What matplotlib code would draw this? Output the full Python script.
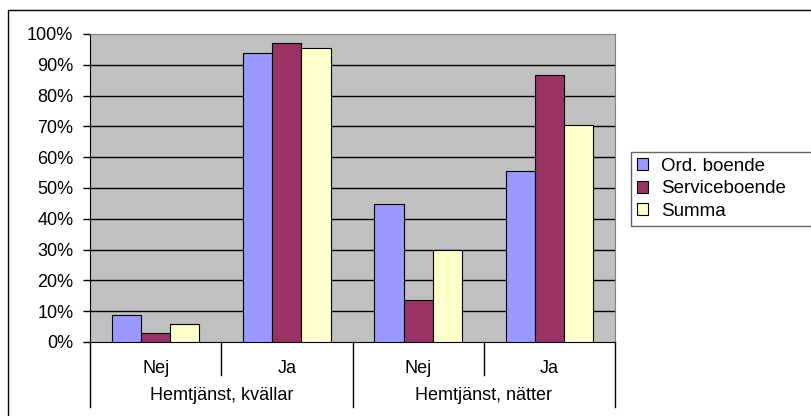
import matplotlib
matplotlib.use("Agg")
import matplotlib.pyplot as plt
import numpy as np
from matplotlib.lines import Line2D
from matplotlib.patches import Patch

plt.rcParams["font.family"] = ["Liberation Sans", "DejaVu Sans"]

# data (percent)
categories = ["Nej", "Ja", "Nej", "Ja"]
groups = ["Hemtjänst, kvällar", "Hemtjänst, nätter"]
series_names = ["Ord. boende", "Serviceboende", "Summa"]
ord_boende = [8.7, 93.9, 44.7, 55.4]
serviceboende = [2.9, 97.2, 13.5, 86.7]
summa = [5.9, 95.4, 29.8, 70.3]
yticks = list(range(0, 101, 10))

colors = ["#9999FF", "#993366", "#FFFFCC"]

W, H = 811, 416
fig = plt.figure(figsize=(W / 100, H / 100), dpi=100)
ax = fig.add_axes([90 / W, (H - 342) / H, (615 - 90) / W, (342 - 34) / H])
ax.set_facecolor("#C0C0C0")

x = np.arange(len(categories)) + 0.5
bw = 1 / 4.5
for i, (vals, c) in enumerate(zip([ord_boende, serviceboende, summa], colors)):
    ax.bar(x + (i - 1) * bw, vals, width=bw, color=c, edgecolor="black",
           linewidth=0.8, zorder=3, label=series_names[i])

ax.set_xlim(0, len(categories))
ax.set_ylim(0, 100)
ax.set_yticks(yticks)
ax.set_yticklabels(["{}%".format(t) for t in yticks])
ax.tick_params(axis="y", direction="out", length=5, width=1, pad=7, labelsize=13)
for t in yticks[1:-1]:
    ax.axhline(t, color="black", linewidth=1, zorder=1)

ax.set_xticks(x)
ax.set_xticklabels(categories)
ax.tick_params(axis="x", length=0, pad=13, labelsize=13)

for s in ["top", "right"]:
    ax.spines[s].set_color("#808080")
for s in ["left", "bottom"]:
    ax.spines[s].set_color("black")

# multi-level category separators
ph = 342 - 34
for b in range(len(categories) + 1):
    depth = 65 if b % 2 == 0 else 33
    ax.plot([b, b], [0, -depth / ph], color="black", linewidth=1,
            transform=ax.get_xaxis_transform(), clip_on=False)
for j, g in enumerate(groups):
    ax.text(2 * j + 1, -(396 - 342) / ph, g, ha="center", va="center",
            fontsize=13, transform=ax.get_xaxis_transform())

# legend, clipped at the right edge like the original
handles = [Patch(facecolor=c, edgecolor="black", linewidth=0.8) for c in colors]
leg = fig.legend(handles, series_names, loc="upper left",
                 bbox_to_anchor=(631 / W, (H - 152) / H, (830 - 631) / W, 0),
                 mode="expand", fontsize=13.5, frameon=True, fancybox=False,
                 edgecolor="#404040", handlelength=0.6, handleheight=0.6,
                 handletextpad=0.7, labelspacing=0.3, borderpad=0.3,
                 borderaxespad=0)
leg.get_frame().set_linewidth(1)

# outer chart border (top and left visible)
fig.add_artist(Line2D([7.5 / W, 7.5 / W, 1], [0, (H - 10) / H, (H - 10) / H],
                      color="black", linewidth=1, transform=fig.transFigure))

fig.savefig("out.png", dpi=100)
